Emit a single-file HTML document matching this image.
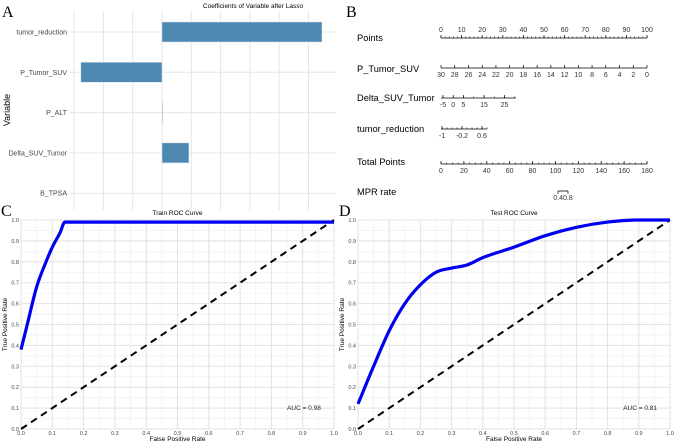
<!DOCTYPE html>
<html><head><meta charset="utf-8"><style>
html,body{margin:0;padding:0;background:#fff;}
svg{display:block;font-family:"Liberation Sans",sans-serif;}
</style></head><body>
<svg id="s" width="676" height="444" viewBox="0 0 676 444">
<text x="2" y="17" font-family="Liberation Serif" font-size="16">A</text>
<text x="346" y="17" font-family="Liberation Serif" font-size="16">B</text>
<text x="1" y="216" font-family="Liberation Serif" font-size="16">C</text>
<text x="339" y="216" font-family="Liberation Serif" font-size="16">D</text>
<g id="A"></g>
<g id="B"></g>
<g id="C"></g>
<g id="D"></g>
</svg>
<script>
const NS="http://www.w3.org/2000/svg";
function el(p,t,a,txt){const e=document.createElementNS(NS,t);for(const k in a)e.setAttribute(k,a[k]);if(txt!==undefined)e.textContent=txt;p.appendChild(e);return e;}

// ---- Panel A data
const lassoVars=["tumor_reduction","P_Tumor_SUV","P_ALT","Delta_SUV_Tumor","B_TPSA"];
const lassoCoefs=[5.46,-2.77,0.01,0.92,0];
const lassoGrid=[-3,-2,-1,0,1,2,3,4,5];

// ---- ROC data
const trainFPR=[0,0.02,0.05,0.08,0.1,0.125,0.14,0.5,1];
const trainTPR=[0.38,0.5,0.68,0.8,0.87,0.94,0.99,0.99,0.99];
const testFPR=[0,0.05,0.1,0.15,0.2,0.25,0.3,0.35,0.4,0.5,0.6,0.7,0.8,0.9,1];
const testTPR=[0.12,0.3,0.47,0.6,0.69,0.75,0.77,0.785,0.82,0.87,0.925,0.965,0.99,1,1];
const rocTicks=[0,0.1,0.2,0.3,0.4,0.5,0.6,0.7,0.8,0.9,1];

// ---- Panel A
(function(){
const g=document.getElementById('A');
const x=v=>162+v*29.3, y=i=>32+i*40.3;
el(g,'text',{x:253,y:8,'font-size':6.5,'text-anchor':'middle'},'Coefficients of Variable after Lasso');
lassoGrid.forEach(v=>{const l=el(g,'line',{x1:x(v),x2:x(v),y1:11,y2:210,stroke:'#e6e6e6','stroke-width':1});
});
lassoVars.forEach((n,i)=>{
 el(g,'line',{x1:70,x2:336,y1:y(i),y2:y(i),stroke:'#e6e6e6','stroke-width':1});
 const t=el(g,'text',{x:67,y:y(i)+2.5,'font-size':7,'text-anchor':'end',fill:'#444'},n);
 
 const v=lassoCoefs[i];
 if(v===0)return;
 const r=el(g,'rect',{x:Math.min(x(0),x(v)),y:y(i)-10,width:Math.max(Math.abs(x(v)-x(0)),0.6),height:20,fill:'#4f87b3',stroke:'#d8e6f0','stroke-width':0.5});
 
});
el(g,'text',{x:10,y:110,'font-size':9,'text-anchor':'middle',transform:'rotate(-90 10 110)'},'Variable');
})();

// ---- Panel B nomogram
(function(){
const g=document.getElementById('B');
const fs=7;
function axis(y,x0,x1,ticks,labels,minor,labAbove){
 el(g,'line',{x1:x0,x2:x1,y1:y,y2:y,stroke:'#000','stroke-width':0.8});
 minor.forEach(px=>el(g,'line',{x1:px,x2:px,y1:y,y2:y-1.5,stroke:'#000','stroke-width':0.6}));
 ticks.forEach((px,i)=>{el(g,'line',{x1:px,x2:px,y1:y,y2:y-3,stroke:'#000','stroke-width':0.7});
  const t=el(g,'text',{x:px,y:labAbove?y-6:y+9,'font-size':fs,'text-anchor':'middle',fill:'#333'},labels[i]);
  });
}
function lab(t,y){const e=el(g,'text',{x:357,y:y,'font-size':9.3},t);}
const X0=441,X1=647;
lab('Points',41);
let tk=[],lb=[],mn=[];for(let v=0;v<=100;v+=10){tk.push(X0+(X1-X0)*v/100);lb.push(String(v));}
for(let v=0;v<=100;v+=2)mn.push(X0+(X1-X0)*v/100);
axis(38,X0,X1,tk,lb,mn,true);
lab('P_Tumor_SUV',72);
tk=[];lb=[];for(let v=30;v>=0;v-=2){tk.push(X0+(X1-X0)*(30-v)/30);lb.push(String(v));}
axis(68,X0,X1,tk,lb,[],false);
lab('Delta_SUV_Tumor',101);
const dX=v=>443+(v+5)*2.05;
tk=[];lb=[];[-5,0,5,15,25].forEach(v=>{tk.push(dX(v));lb.push(String(v));});
mn=[];for(let v=-5;v<=30;v+=5)mn.push(dX(v));
axis(98,441,516,tk,lb,mn,false);
lab('tumor_reduction',132);
const tX=v=>442+(v+1)*25;
tk=[];lb=[];[-1,-0.2,0.6].forEach(v=>{tk.push(tX(v));lb.push(String(v));});
mn=[];for(let v=-1;v<=0.81;v+=0.2)mn.push(tX(v));
axis(129,441,487,tk,lb,mn,false);
lab('Total Points',165);
tk=[];lb=[];for(let v=0;v<=180;v+=20){tk.push(X0+(X1-X0)*v/180);lb.push(String(v));}
mn=[];for(let v=0;v<=180;v+=5)mn.push(X0+(X1-X0)*v/180);
axis(164,X0,X1,tk,lb,mn,false);
lab('MPR rate',195);
el(g,'line',{x1:558,x2:568,y1:191,y2:191,stroke:'#000','stroke-width':0.8});
el(g,'line',{x1:558,x2:558,y1:191,y2:194,stroke:'#000','stroke-width':0.7});
el(g,'line',{x1:568,x2:568,y1:191,y2:194,stroke:'#000','stroke-width':0.7});
el(g,'text',{x:563,y:200,'font-size':fs,'text-anchor':'middle',fill:'#333'},'0.40.8');
})();

// monotone cubic path
function monoPath(P){
 const n=P.length,d=[],m=[];
 for(let i=0;i<n-1;i++)d.push((P[i+1][1]-P[i][1])/(P[i+1][0]-P[i][0]));
 m[0]=d[0];m[n-1]=d[n-2];
 for(let i=1;i<n-1;i++)m[i]=(d[i-1]*d[i]<=0)?0:(d[i-1]+d[i])/2;
 for(let i=0;i<n-1;i++){if(d[i]===0){m[i]=0;m[i+1]=0;continue;}
  const a=m[i]/d[i],b=m[i+1]/d[i],s=a*a+b*b;if(s>9){const t=3/Math.sqrt(s);m[i]=t*a*d[i];m[i+1]=t*b*d[i];}}
 let s=`M${P[0][0]},${P[0][1]}`;
 for(let i=0;i<n-1;i++){const h=(P[i+1][0]-P[i][0])/3;
  s+=` C${P[i][0]+h},${P[i][1]+m[i]*h} ${P[i+1][0]-h},${P[i+1][1]-m[i+1]*h} ${P[i+1][0]},${P[i+1][1]}`;}
 return s;
}

// ---- ROC panels
function roc(id,x0,x1,title,fpr,tpr,auc){
 const g=document.getElementById(id);
 const y0=429,y1=220;
 const X=v=>x0+(x1-x0)*v, Y=v=>y0-(y0-y1)*v;
 for(let v=0.05;v<1;v+=0.1){el(g,'line',{x1:X(v),x2:X(v),y1:y1,y2:y0,stroke:'#f2f2f2','stroke-width':0.8});
  el(g,'line',{x1:x0,x2:x1,y1:Y(v),y2:Y(v),stroke:'#f2f2f2','stroke-width':0.8});}
 rocTicks.forEach(v=>{
  el(g,'line',{x1:X(v),x2:X(v),y1:y1,y2:y0,stroke:'#e2e2e2','stroke-width':1});
  el(g,'line',{x1:x0,x2:x1,y1:Y(v),y2:Y(v),stroke:'#e2e2e2','stroke-width':1});
  const a=el(g,'text',{x:X(v),y:y0+6,'font-size':5.5,'text-anchor':'middle',fill:'#444'},v.toFixed(1));
  
  const b=el(g,'text',{x:x0-2,y:Y(v)+2,'font-size':5.5,'text-anchor':'end',fill:'#444'},v.toFixed(1));
  
 });
 el(g,'text',{x:(x0+x1)/2,y:215,'font-size':6.5,'text-anchor':'middle'},title);
 el(g,'text',{x:(x0+x1)/2,y:441,'font-size':6.5,'text-anchor':'middle'},'False Positive Rate');
 const yc=(y0+y1)/2;
 el(g,'text',{x:x0-14,y:yc,'font-size':6.5,'text-anchor':'middle',transform:`rotate(-90 ${x0-14} ${yc})`},'True Positive Rate');
 const d=el(g,'line',{x1:X(0),y1:Y(0),x2:X(1),y2:Y(1),stroke:'#000','stroke-width':2,'stroke-dasharray':'7 5'});
 
 const P=fpr.map((f,i)=>[X(f),Y(tpr[i])]);
 const c=el(g,'path',{d:monoPath(P),fill:'none',stroke:'#0000f0','stroke-width':3.2,'stroke-linejoin':'round'});
 
 const t=el(g,'text',{x:X(0.85),y:Y(0.1)+2,'font-size':6.5,fill:'#222'},'AUC = '+auc);
 
}
roc('C',21,334,'Train ROC Curve',trainFPR,trainTPR,'0.98');
roc('D',358,670,'Test ROC Curve',testFPR,testTPR,'0.81');
</script>
</body></html>
